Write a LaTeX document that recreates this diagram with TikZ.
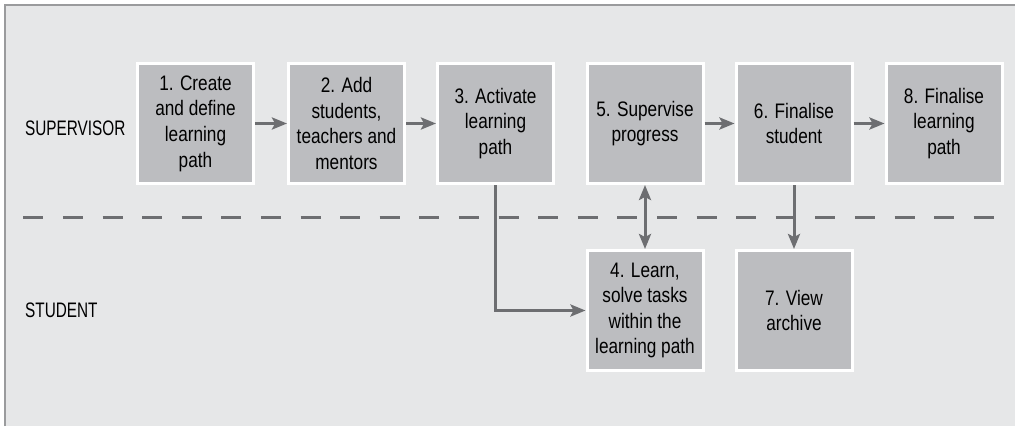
\documentclass[tikz,border=0pt]{standalone}
\usepackage{fontspec}
\setmainfont{Liberation Sans}[FakeStretch=0.82]
\newfontfamily\lanefont{Liberation Sans}[FakeStretch=0.73]
\usetikzlibrary{arrows.meta}
\definecolor{bgc}{HTML}{E6E7E8}
\definecolor{boxc}{HTML}{BCBDC0}
\definecolor{arrc}{HTML}{6D6E71}
\definecolor{framec}{HTML}{9A9B9D}
\tikzset{
  stepbox/.style={draw=white, line width=3pt, fill=boxc, minimum width=116pt, minimum height=120pt, inner sep=0pt, align=center, text=black, font=\fontsize{21}{25.6}\selectfont},
  lane/.style={anchor=west, inner sep=0pt, font=\lanefont\fontsize{21}{25}\selectfont},
  conn/.style={draw=arrc, line width=3pt, -{Stealth[length=15pt,width=12pt,inset=3pt]}},
  bconn/.style={draw=arrc, line width=3pt, {Stealth[length=15pt,width=12pt,inset=3pt]}-{Stealth[length=15pt,width=12pt,inset=3pt]}},
  divider/.style={draw=arrc, line width=2.7pt, dash pattern=on 20pt off 19.6pt}
}
\begin{document}
\begin{tikzpicture}[x=1pt,y=-1pt]
\useasboundingbox (0,0) rectangle (1015,426);
\fill[white] (0,0) rectangle (1015,426);
\fill[bgc] (5,5) rectangle (1015,426);
\draw[framec, line width=1.6pt] (4.8,426) -- (4.8,4.8) -- (1015,4.8);
\draw[divider] (23.3,217.5) -- (1000,217.5);
\node[lane] (sup) at (25,128) {SUPERVISOR};
\node[lane] (stu) at (25,310) {STUDENT};
\node[stepbox] (b1) at (195.5,123.5) {1. Create\\and define\\learning\\path};
\node[stepbox] (b2) at (346.5,123.5) {2. Add\\students,\\teachers and\\mentors};
\node[stepbox] (b3) at (495.5,123.5) {3. Activate\\learning\\path};
\node[stepbox] (b5) at (645,123.5) {5. Supervise\\progress};
\node[stepbox] (b6) at (794,123.5) {6. Finalise\\student};
\node[stepbox] (b8) at (944,123.5) {8. Finalise\\learning\\path};
\node[stepbox] (b4) at (645,310.5) {4. Learn,\\solve tasks\\within the\\learning path};
\node[stepbox] (b7) at (794,310.5) {7. View\\archive};
\draw[conn] (b1) -- (b2);
\draw[conn] (b2) -- (b3);
\draw[conn] (b5) -- (b6);
\draw[conn] (b6) -- (b8);
\draw[conn] (b3.south) |- (b4.west);
\draw[bconn] (b5.south) -- (b4.north);
\draw[conn] (b6.south) -- (b7.north);
\end{tikzpicture}
\end{document}
